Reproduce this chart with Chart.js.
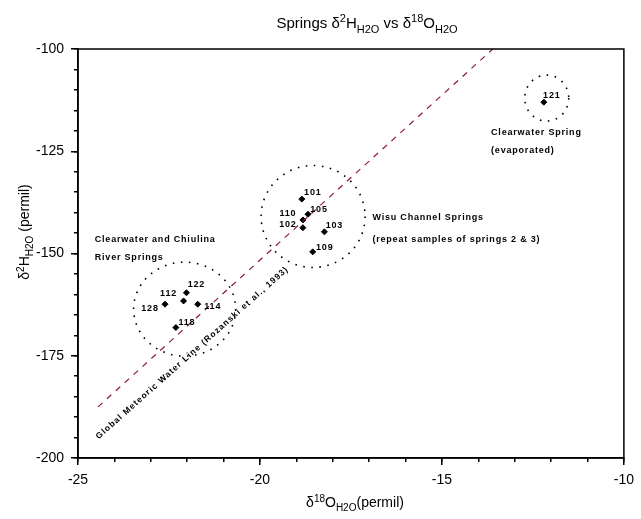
<!DOCTYPE html>
<html>
<head>
<meta charset="utf-8">
<script src="https://cdn.jsdelivr.net/npm/chart.js@4.4.0/dist/chart.umd.min.js"></script>
<style>
  html, body { margin: 0; padding: 0; background: #fff; }
  #wrap { width: 641px; height: 519px; }
</style>
</head>
<body>
<div id="wrap"><canvas id="isoChart" width="641" height="519"></canvas></div>
<script>
// Spring samples
const springIds = ['122', '112', '128', '114', '118', '101', '105', '110', '102', '103', '109', '121'];
const d18O = [-22.02, -22.10, -22.61, -21.71, -22.31, -18.85, -18.68, -18.82, -18.82, -18.23, -18.55, -12.20];
const d2H = [-159.6, -161.6, -162.4, -162.4, -168.1, -136.7, -140.4, -141.8, -143.7, -144.7, -149.6, -113.0];

// Global meteoric water line end points
const gmwlO = [-24.45, -13.6];
const gmwlH = [-187.5, -100];

// Axis ranges / ticks
const xRange = [-25, -10];
const yRange = [-200, -100];
const xMajor = 5, xMinor = 1;
const yMajor = 25, yMinor = 5;

// Group notes
const noteLines = [
    'Clearwater and Chiulina', 'River Springs',
    'Wisu Channel Springs', '(repeat samples of springs 2 & 3)',
    'Clearwater Spring', '(evaporated)'
];
const noteAt = [[-24.54, -146.5], [-24.54, -150.9], [-16.91, -141.3], [-16.91, -146.5], [-13.65, -120.3], [-13.65, -124.9]];

// dotted rings round the groups (centre in data, radii in px)
const rings = [
    { x: -22.07, y: -163.6, rx: 51, ry: 47 },
    { x: -18.54, y: -140.95, rx: 52, ry: 51 },
    { x: -12.12, y: -112.0, rx: 22, ry: 23 }
];
// label offsets for the spring ids, px from marker
const labelOff = [[10, -8], [-15, -7], [-15, 4], [15, 2], [11, -5], [11, -7], [11, -5], [-15, -6], [-15, -3], [10, -6], [12, -4], [8, -7]];

const FONT = "'Liberation Sans', Arial, sans-serif";
const SMALL = "bold 9px 'Liberation Sans', Arial, sans-serif";

function drawRich(ctx, parts, x, y, size, align) {
    const big = size + 'px ' + FONT;
    const small = Math.round(size * 0.72) + 'px ' + FONT;
    let w = 0;
    parts.forEach(p => { ctx.font = p[1] ? small : big; w += ctx.measureText(p[0]).width; });
    let cx = align === 'center' ? x - w / 2 : x;
    ctx.textAlign = 'left';
    ctx.textBaseline = 'alphabetic';
    parts.forEach(p => {
        ctx.font = p[1] ? small : big;
        const dy = p[1] === 'sup' ? -size * 0.38 : (p[1] === 'sub' ? size * 0.32 : 0);
        ctx.fillText(p[0], cx, y + dy);
        cx += ctx.measureText(p[0]).width;
    });
}

const decorPlugin = {
    id: 'decor',
    afterDatasetsDraw(chart) {
        const ctx = chart.ctx;
        const xs = chart.scales.x, ys = chart.scales.y;
        const a = chart.chartArea;
        ctx.save();
        // frame
        ctx.strokeStyle = '#000';
        ctx.lineWidth = 1.5;
        ctx.strokeRect(a.left, a.top, a.right - a.left, a.bottom - a.top);

        // rings
        ctx.lineWidth = 1.6;
        ctx.setLineDash([1.6, 6.5]);
        rings.forEach(r => {
            ctx.beginPath();
            ctx.ellipse(xs.getPixelForValue(r.x), ys.getPixelForValue(r.y), r.rx, r.ry, 0, 0, Math.PI * 2);
            ctx.stroke();
        });
        ctx.setLineDash([]);

        // notes
        ctx.fillStyle = '#000';
        ctx.font = SMALL;
        ctx.letterSpacing = '0.8px';
        ctx.textAlign = 'left';
        ctx.textBaseline = 'middle';
        noteLines.forEach((t, i) => {
            ctx.fillText(t, xs.getPixelForValue(noteAt[i][0]), ys.getPixelForValue(noteAt[i][1]));
        });

        // spring id labels
        ctx.textAlign = 'center';
        const meta = chart.getDatasetMeta(1);
        meta.data.forEach((pt, i) => {
            ctx.fillText(springIds[i], pt.x + labelOff[i][0], pt.y + labelOff[i][1]);
        });

        // GMWL label along the line
        ctx.font = "bold 8.5px 'Liberation Sans', Arial, sans-serif";
        ctx.letterSpacing = '1.1px';
        ctx.translate(xs.getPixelForValue(-21.86), ys.getPixelForValue(-174.3));
        ctx.rotate(-41.7 * Math.PI / 180);
        ctx.fillText('Global Meteoric Water Line (Rozanski et al., 1993)', 0, 0);
        ctx.restore();
    },
    afterDraw(chart) {
        const ctx = chart.ctx;
        ctx.save();
        ctx.fillStyle = '#000';
        drawRich(ctx, [['Springs δ'], ['2', 'sup'], ['H'], ['H2O', 'sub'], [' vs δ'], ['18', 'sup'], ['O'], ['H2O', 'sub']], 367, 28, 15, 'center');
        drawRich(ctx, [['δ'], ['18', 'sup'], ['O'], ['H2O', 'sub'], ['(permil)']], 355, 507, 14, 'center');
        ctx.translate(29, 232);
        ctx.rotate(-Math.PI / 2);
        drawRich(ctx, [['δ'], ['2', 'sup'], ['H'], ['H2O', 'sub'], [' (permil)']], 0, 0, 14, 'center');
        ctx.restore();
    }
};

const tickFont = { family: FONT, size: 14 };

new Chart(document.getElementById('isoChart').getContext('2d'), {
    type: 'scatter',
    data: {
        datasets: [{
            type: 'line',
            data: gmwlO.map((v, i) => ({ x: v, y: gmwlH[i] })),
            borderColor: '#8b1c2c',
            borderWidth: 1.2,
            borderDash: [6, 6],
            pointRadius: 0,
            fill: false
        }, {
            data: d18O.map((v, i) => ({ x: v, y: d2H[i] })),
            pointStyle: 'rectRot',
            radius: 3,
            backgroundColor: '#000',
            borderColor: '#000',
            borderWidth: 1
        }]
    },
    options: {
        responsive: false,
        animation: false,
        layout: { padding: { top: 49, right: 12, left: 0, bottom: 0 } },
        scales: {
            x: {
                min: xRange[0], max: xRange[1],
                ticks: { stepSize: xMajor, padding: 7, color: '#000', font: tickFont, maxRotation: 0 },
                grid: { drawOnChartArea: false, tickLength: 7, color: '#000', lineWidth: 1.5 },
                border: { color: '#000', width: 1.5 },
                afterFit(s) { s.height = 61; }
            },
            y: {
                min: yRange[0], max: yRange[1],
                ticks: { stepSize: yMajor, padding: 7, color: '#000', font: tickFont },
                grid: { drawOnChartArea: false, tickLength: 7, color: '#000', lineWidth: 1.5 },
                border: { color: '#000', width: 1.5 },
                afterFit(s) { s.width = 78; }
            },
            xMinor: {
                type: 'linear', axis: 'x',
                position: { y: yRange[0] },
                min: xRange[0], max: xRange[1],
                ticks: { stepSize: xMinor, display: false },
                grid: { drawOnChartArea: false, tickLength: 4, color: '#000', lineWidth: 1.5 },
                border: { display: false }
            },
            yMinor: {
                type: 'linear', axis: 'y',
                position: { x: xRange[0] },
                min: yRange[0], max: yRange[1],
                ticks: { stepSize: yMinor, display: false },
                grid: { drawOnChartArea: false, tickLength: 4, color: '#000', lineWidth: 1.5 },
                border: { display: false }
            }
        },
        plugins: {
            legend: { display: false },
            tooltip: { enabled: false }
        }
    },
    plugins: [decorPlugin]
});
</script>
</body>
</html>
